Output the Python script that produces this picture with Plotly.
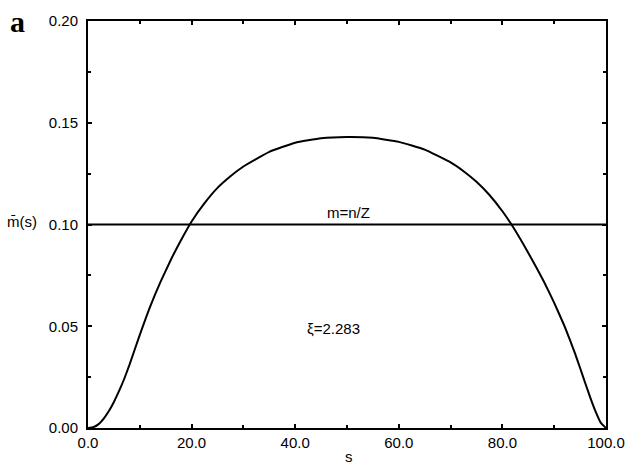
import plotly.graph_objects as go

# curve m̄(s)
s_vals = [0, 1, 2, 3, 4, 5, 6, 7, 8, 10, 12, 14, 16, 18, 20, 22.5, 25, 27.5, 30, 35, 40, 45,
          50, 55, 60, 65, 70, 72.5, 75, 77.5, 80, 82, 84, 86, 88, 90, 92, 93, 94, 95, 96, 97, 98, 99, 100]
m_vals = [0, 0.0004, 0.0018, 0.0045, 0.0082, 0.0128, 0.0182, 0.0242, 0.0310, 0.0458, 0.0597, 0.0718,
          0.0827, 0.0925, 0.1015, 0.1105, 0.1180, 0.1237, 0.1285, 0.1357, 0.1402, 0.1424,
          0.1430, 0.1426, 0.1406, 0.1368, 0.1305, 0.1262, 0.1210, 0.1145, 0.1065, 0.0990, 0.0905,
          0.0815, 0.0720, 0.0615, 0.0500, 0.0435, 0.0368, 0.0295, 0.0220, 0.0147, 0.0080, 0.0025, 0]

mean_s = [0, 100]
mean_m = [0.1, 0.1]

x_ticks = [0, 20, 40, 60, 80, 100]
x_ticktext = ["0.0", "20.0", "40.0", "60.0", "80.0", "100.0"]
y_ticks = [0, 0.05, 0.10, 0.15, 0.20]
y_ticktext = ["0.00", "0.05", "0.10", "0.15", "0.20"]

FONT = "Liberation Sans, Arial, sans-serif"

fig = go.Figure()
fig.add_trace(go.Scatter(x=s_vals, y=m_vals, mode="lines",
                         line=dict(color="black", width=2, shape="spline", smoothing=0.4),
                         hoverinfo="skip"))
fig.add_trace(go.Scatter(x=mean_s, y=mean_m, mode="lines",
                         line=dict(color="black", width=2), hoverinfo="skip"))

axis_common = dict(showgrid=False, zeroline=False, showline=True, linecolor="black", linewidth=2,
                   mirror="allticks", ticks="inside", ticklen=4, tickwidth=1.5, tickcolor="black",
                   tickfont=dict(family=FONT, size=15, color="black"))

fig.update_xaxes(range=[0, 100], tickvals=x_ticks, ticktext=x_ticktext, ticklabelstandoff=0,
                 minor=dict(ticks="inside", dtick=10, tick0=0, ticklen=3, tickwidth=1.5, tickcolor="black"),
                 **axis_common)
fig.update_yaxes(range=[0, 0.2], tickvals=y_ticks, ticktext=y_ticktext, ticklabelstandoff=5,
                 minor=dict(ticks="inside", dtick=0.025, tick0=0, ticklen=3, tickwidth=1.5, tickcolor="black"),
                 **axis_common)

ann = [
    dict(text="m=n/Z", x=50.3, y=0.106),
    dict(text="ξ=2.283", x=47.3, y=0.049),
]
for a in ann:
    fig.add_annotation(x=a["x"], y=a["y"], xref="x", yref="y", text=a["text"], showarrow=False,
                       font=dict(family=FONT, size=15, color="black"))

# axis titles / panel label
fig.add_annotation(x=-0.128, y=0.508, xref="paper", yref="paper", text="m\u0304(s)", showarrow=False,
                   xanchor="center", yanchor="middle", font=dict(family=FONT, size=15, color="black"))
fig.add_annotation(x=0.503, y=-0.07, xref="paper", yref="paper", text="s", showarrow=False,
                   xanchor="center", yanchor="middle", font=dict(family=FONT, size=15, color="black"))
fig.add_annotation(x=-0.136, y=1.0, xref="paper", yref="paper", text="<b>a</b>", showarrow=False,
                   xanchor="center", yanchor="middle",
                   font=dict(family="Liberation Serif, Times New Roman, serif", size=30, color="black"))

fig.update_layout(width=637, height=466, margin=dict(l=88, r=19, t=19, b=38),
                  paper_bgcolor="white", plot_bgcolor="white", showlegend=False)

fig.write_html("out.html")
